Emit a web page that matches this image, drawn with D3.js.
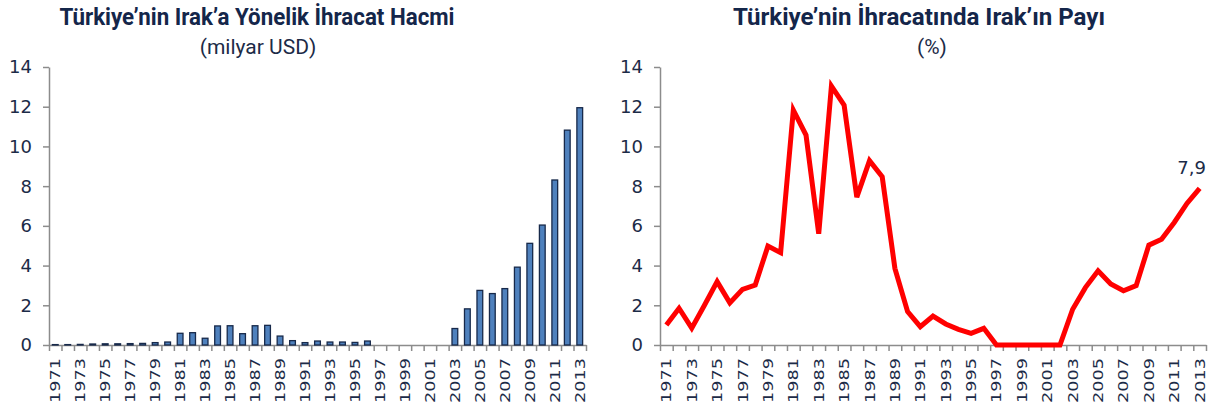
<!DOCTYPE html>
<html><head><meta charset="utf-8">
<script src="https://cdn.jsdelivr.net/npm/d3@7"></script>
<style>
html,body{margin:0;padding:0;background:#fff;}
svg{display:block;}
</style></head>
<body>
<svg id="c" width="1217" height="408"></svg>
<script>
const years = d3.range(1971, 2014).map(String);
const exportVolume = [0.02,0.02,0.03,0.05,0.06,0.06,0.07,0.08,0.12,0.15,
  0.59,0.62,0.34,0.96,0.97,0.57,0.97,0.99,0.45,0.22,
  0.12,0.20,0.15,0.15,0.13,0.20,0,0,0,0,
  0,0,0.83,1.82,2.75,2.59,2.84,3.92,5.12,6.04,
  8.31,10.82,11.95];
const exportShare = [1.01,1.85,0.85,2.0,3.19,2.12,2.8,3.02,4.98,4.65,
  11.83,10.57,5.6,13.04,12.08,7.45,9.28,8.47,3.86,1.68,
  0.92,1.46,1.06,0.79,0.59,0.84,0,0,0,0,
  0,0,1.8,2.89,3.74,3.07,2.73,2.99,5.03,5.32,
  6.17,7.13,7.89];
const yTicks = [0,2,4,6,8,10,12,14];
const xLabels = years.filter((d,i)=>i%2===0);
const leftTitle = "Türkiye’nin Irak’a Yönelik İhracat Hacmi";
const leftSub = "(milyar USD)";
const rightTitle = "Türkiye’nin İhracatında Irak’ın Payı";
const rightSub = "(%)";
const lastLabel = "7,9";

const svg = d3.select("#c");
const textCol = "#1c2b47";
const axisCol = "#8c8c8c";
const y = d3.scaleLinear().domain([0,14]).range([345,67]);

function panel(x0, x1, labelRight) {
  const g = svg.append("g");
  const x = d3.scaleBand().domain(years).range([x0, x1]).padding(0);
  const xi = d3.scaleLinear().domain([0, years.length]).range([x0, x1]);
  const ya = g.append("g").attr("transform", `translate(${x0},0)`)
    .call(d3.axisLeft(y).tickValues(yTicks).tickSize(6).tickSizeOuter(0).tickFormat(""));
  ya.selectAll("path,line").attr("stroke", axisCol).attr("stroke-width", 1.5);
  g.selectAll("text.yt").data(yTicks).join("text").attr("class","yt")
    .attr("x", labelRight).attr("y", d=>y(d)).attr("dy","0.36em")
    .attr("text-anchor","end").attr("font-family","DejaVu Sans").attr("font-size",18)
    .attr("fill", textCol).text(d=>d);
  const xa = g.append("g").attr("transform", `translate(0,345)`)
    .call(d3.axisBottom(xi).tickValues(d3.range(years.length+1)).tickSize(6).tickSizeOuter(0).tickFormat(""));
  xa.selectAll("path,line").attr("stroke", axisCol).attr("stroke-width", 1.5);
  g.selectAll("text.xt").data(xLabels).join("text").attr("class","xt")
    .attr("transform", d=>`translate(${x(d)+x.bandwidth()/2+5},358) rotate(-90)`)
    .attr("text-anchor","end").attr("font-family","DejaVu Sans").attr("font-size",14)
    .attr("textLength", 45).attr("lengthAdjust","spacingAndGlyphs")
    .attr("fill", textCol).text(d=>d);
  return {g, x};
}

const L = panel(49, 586, 32);
const bw = L.x.bandwidth()*0.46;
L.g.selectAll("rect.bar").data(years.map((d,i)=>({y:d, v:exportVolume[i]})).filter(d=>d.v>0))
  .join("rect").attr("class","bar")
  .attr("x", d=>L.x(d.y)+L.x.bandwidth()/2-bw/2)
  .attr("y", d=>y(d.v))
  .attr("width", bw)
  .attr("height", d=>y(0)-y(d.v))
  .attr("fill","#4f81bd").attr("stroke","#17294a").attr("stroke-width",1.3);

const R = panel(660, 1206, 643);
const line = d3.line().x((d,i)=>R.x(years[i])+R.x.bandwidth()/2).y(d=>y(d));
R.g.append("path").datum(exportShare).attr("d", line)
  .attr("fill","none").attr("stroke","#ff0000").attr("stroke-width",5)
  .attr("stroke-linejoin","miter");
R.g.append("text").attr("x", 1206).attr("y", 174).attr("text-anchor","end")
  .attr("font-family","DejaVu Sans").attr("font-size",18).attr("fill",textCol).text(lastLabel);

function title(cx, txt, w) {
  svg.append("text").attr("x",cx).attr("y",25).attr("text-anchor","middle")
    .attr("font-family","Roboto,sans-serif")
    .attr("font-weight","bold").attr("font-size",23).attr("fill","#14264a")
    .attr("textLength", w).attr("lengthAdjust","spacingAndGlyphs").text(txt);
}
function sub(cx, txt) {
  svg.append("text").attr("x",cx).attr("y",54).attr("text-anchor","middle")
    .attr("font-family","Roboto,sans-serif").attr("font-size",21).attr("fill",textCol)
    .text(txt);
}
title(257, leftTitle, 395);
sub(258, leftSub);
title(919, rightTitle, 372);
sub(932, rightSub);
</script>
</body></html>
